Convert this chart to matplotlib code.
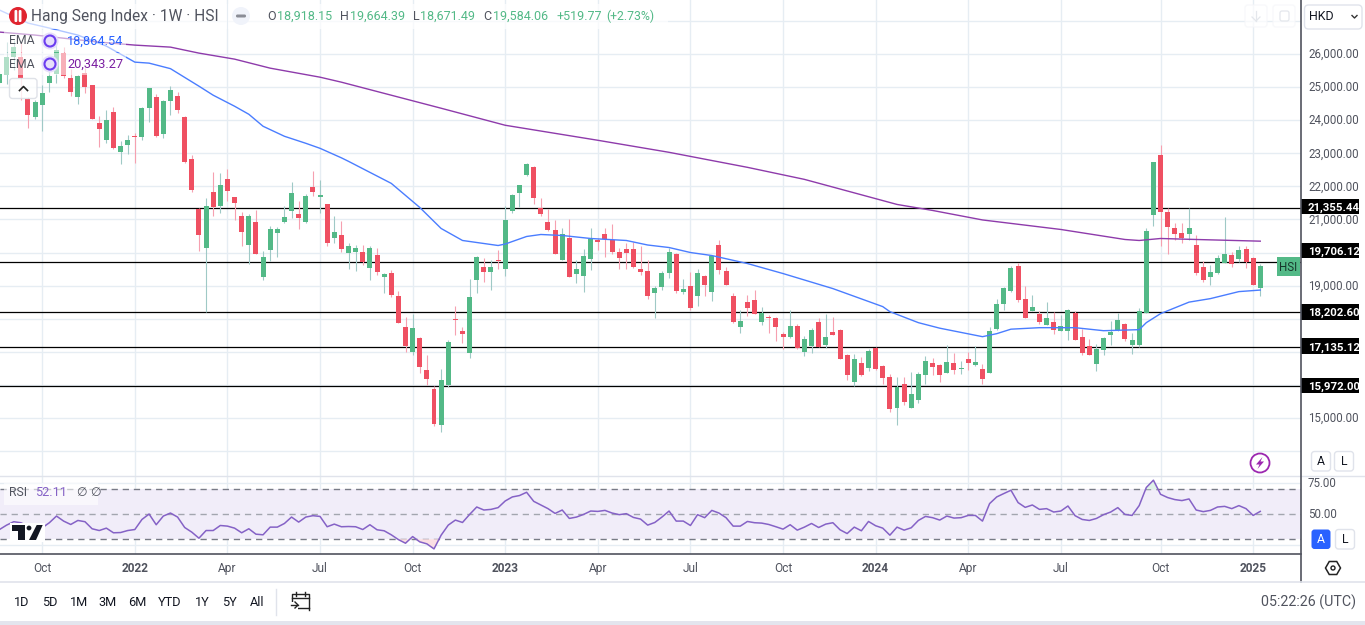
import matplotlib
matplotlib.use('Agg')
import matplotlib.pyplot as plt
from matplotlib.patches import Circle, FancyBboxPatch, Polygon, Rectangle, RegularPolygon
from matplotlib.ticker import FixedLocator, FuncFormatter
from matplotlib.transforms import ScaledTranslation

plt.rcParams['font.family'] = ['Roboto', 'DejaVu Sans']

# Weekly candles, one per week
opens = [25131,25363,25898,25919,24646,24090,24454,25121,25393,26040,
         25272,24696,25414,25060,23909,23394,24242,23030,23242,23515,
         23484,24363,24696,23575,24575,24727,24090,22818,21303,20151,
         21818,21394,22212,21666,21091,20242,20909,19273,20091,20576,
         20909,21242,21151,20909,21969,21666,21454,20454,20515,20000,
         20030,20030,19545,19939,19273,19394,18697,17758,17000,17424,
         16455,15879,14788,16000,18000,17636,16970,19182,19576,19424,
         19788,19515,21242,21788,22333,22575,21333,20909,20667,19788,
         20424,19364,19303,19818,20364,20545,20364,20030,20121,20121,
         19515,19455,18788,18970,19394,19970,18818,19000,18697,19303,
         18818,20242,19455,18697,17758,18515,18576,17909,18061,18030,
         17546,17455,17788,17000,17182,17909,17212,17606,17667,16909,
         16091,16667,16515,17121,16576,16242,15303,16030,15303,15546,
         16303,16667,16606,16364,16667,16485,16788,16606,16485,16364,
         17697,18455,18848,19606,18606,18242,18152,17818,17909,17636,
         17636,18182,17455,17182,16636,17061,17515,17667,17849,17212,
         17212,18182,21121,22939,21212,20727,20576,20545,20242,19576,
         19273,19394,19697,19939,19818,20121,19848,18918.15]
highs = [25500,26373,26424,26373,24707,24606,25060,25565,26323,26222,
         25535,25360,25565,25080,24121,24323,24404,23363,23565,23616,
         24404,24985,24787,24606,25030,24848,24121,22939,21333,21636,
         22424,22394,22515,21680,21212,21151,21272,20060,20788,20757,
         21394,22121,21545,21757,22454,22181,21470,21091,20939,20273,
         20242,20242,20182,20151,19394,19485,18848,18061,18152,17440,
         16909,15970,16485,17364,18394,17758,19212,19909,19848,19788,
         20091,21394,21757,22045,22697,22606,21636,21303,20970,20727,
         21000,19788,20121,20727,20424,20727,20848,20151,20273,20303,
         20182,19788,19000,19455,20151,20000,19212,19424,19515,19320,
         19939,20364,19576,18788,18273,18727,18879,18364,18121,18045,
         17606,18273,17849,17485,17727,18030,18152,18061,17680,16939,
         16939,16848,17091,17135,16590,16333,16242,16242,16394,16394,
         16879,16818,16636,17212,16970,16727,17000,17182,16636,17758,
         18606,18955,19606,19697,19000,18727,18242,18515,18212,18121,
         18303,18242,17697,17394,17242,17455,17939,18182,17865,17576,
         18333,20727,22745,23242,21333,20879,20879,21333,20515,19758,
         19636,19939,21060,20030,20182,20182,19865,19664.39]
lows = [25090,25090,25515,24606,23767,24030,23676,24858,25131,25292,
        24727,24494,24818,24030,23181,23313,23140,22666,22969,22697,
        23404,23939,23500,23454,24151,24212,22697,21818,20060,18212,
        21091,21182,21545,20970,20182,19667,19960,19182,19758,19879,
        20879,21030,20697,20900,21697,21182,20212,20273,20030,19515,
        19455,19636,19182,19333,18788,18667,17870,17000,16909,16364,
        16000,14758,14576,15940,17515,17273,16818,18788,19121,18879,
        19515,19303,21182,21363,22320,21454,21091,20650,19960,19775,
        19260,19091,18818,19485,20091,19879,19970,19515,19515,19545,
        19333,18606,18030,18879,19242,18788,18758,18273,18394,18697,
        18545,19364,19020,17879,17576,18091,18140,17818,17576,17333,
        17091,17424,17091,16879,16970,17140,17121,17500,16775,16152,
        15970,16273,16424,16455,16030,15182,14788,15394,15290,15455,
        16030,16303,16091,16350,16333,16333,16455,16576,16030,16350,
        17667,18273,18818,18515,18020,18230,17849,17805,17546,17625,
        17364,17350,16909,16895,16424,16909,17212,17636,17333,16939,
        17152,18170,20788,20182,19970,20364,20273,20364,19333,19121,
        19030,19364,19685,19576,19727,19545,19015,18671.49]
closes = [25393,25919,26222,25292,24151,24565,24818,25333,26121,25333,
          24848,25333,24999,24040,23727,24000,23151,23212,23394,23484,
          24363,24969,23515,24575,24908,24302,22727,21878,20515,21394,
          21363,22030,21848,21485,20606,21091,19970,19879,20697,20697,
          21060,21788,21030,21697,21818,21727,20273,20606,20121,20182,
          20151,19727,20151,19424,19364,18727,17879,17182,17727,16546,
          16182,14819,16152,17303,17970,17546,18667,19879,19424,19576,
          19758,20970,21727,22030,22666,21636,21151,20667,19970,20545,
          19273,19515,19909,20394,20303,20394,20030,19848,20000,19576,
          19424,18697,18939,19394,20030,18848,18909,18333,19394,19030,
          19909,19485,19030,17909,17939,18333,18152,18182,18030,17758,
          17455,17788,17121,17394,17667,17152,17455,17515,16788,16303,
          16788,16303,17030,16485,16212,15273,15940,15485,15728,16333,
          16727,16546,16303,16697,16455,16515,16667,16697,16182,17636,
          18455,18939,19545,18576,18030,18364,17909,18030,17667,17788,
          18273,17364,16970,16909,17091,17424,17606,17970,17394,17364,
          18242,20636,22727,21212,20757,20545,20454,20727,19394,19182,
          19424,19848,19970,19667,20091,19727,19030,19584.06]

# EMA lines, read at the weeks where the line bends
ema_fast_weeks = [0,4,7,11,15,19,21,24,28,30,33,35,37,40,43,45,48,49,52,55,58,59,62,65,67,70,71,74,76,79,
                  83,88,91,94,97,100,105,110,117,124,125,129,132,138,140,142,146,151,155,160,161,163,167,170,174,177]
ema_fast = [27332,26939,26787,26575,26242,25757,25727,25560,25030,24757,24424,24181,23818,23515,23303,23151,
            22863,22757,22424,22091,21545,21363,20727,20364,20303,20212,20257,20485,20545,20515,
            20424,20364,20227,20151,20000,19909,19667,19364,18909,18364,18212,17879,17712,17455,17546,17682,
            17727,17727,17636,17667,17879,18152,18500,18606,18818,18864.54]
ema_slow_weeks = [0,5,14,19,24,28,33,38,45,48,55,62,71,84,94,105,113,126,131,138,149,158,160,163,168,177]
ema_slow = [26666,26575,26363,26272,26211,26030,25848,25575,25302,25151,24757,24363,23848,23394,23030,22576,
            22212,21454,21272,20985,20697,20394,20364,20424,20394,20343.27]

rsi = [37.7,41.2,43.9,43.1,40.4,36.9,39.1,43.1,48.4,44.4,41.7,44.9,43.9,38.3,36.9,38.8,35.1,35.3,36.9,37.7,
       45.7,50.0,41.5,48.4,50.8,47.6,39.3,35.6,30.8,36.9,36.9,40.9,40.4,38.8,35.1,38.3,34.0,33.5,39.6,39.6,
       42.5,47.6,43.6,47.6,48.7,48.1,39.9,42.0,39.9,40.1,39.9,37.7,41.5,37.5,36.7,33.5,29.7,26.8,32.1,27.9,
       26.3,22.3,33.2,41.2,45.2,43.3,49.7,55.6,53.2,53.7,55.1,60.4,63.6,64.7,67.3,60.1,57.2,54.3,50.5,53.2,
       46.5,47.6,49.7,52.4,52.1,52.9,50.8,49.5,50.3,47.3,46.0,41.2,43.3,47.6,52.4,44.4,44.4,40.9,49.5,47.1,
       52.9,50.8,47.1,40.4,40.4,44.1,43.1,42.8,41.7,39.9,38.0,41.5,37.2,39.6,42.5,39.3,42.0,43.1,37.5,34.5,
       39.6,36.7,44.1,40.7,38.8,33.2,39.6,37.2,39.1,44.9,48.1,47.1,45.2,48.4,46.8,47.1,48.9,48.9,44.4,58.3,
       63.6,66.3,68.9,59.1,55.3,57.2,53.7,54.3,51.6,52.4,56.4,48.7,45.7,44.9,46.5,49.5,51.6,55.1,49.7,48.9,
       56.7,71.1,76.9,65.7,63.1,61.5,60.7,62.0,53.2,51.9,52.9,55.6,56.1,54.3,56.7,54.3,48.9,52.11]

levels = [21355.44, 19706.12, 18202.60, 17135.12, 15972.00]
# where each level's tag sits on the scale; the 19,706 one is pushed up clear of the HSI tag
tag_prices = [21390, 20060, 18202.60, 17165, 15972.00]
price_ticks = list(range(14000, 28000, 1000))
# the round prices the level tags cover are not labelled
label_ticks = [15000, 19000, 21000, 22000, 23000, 24000, 25000, 26000]
month_weeks = [6, 19, 32, 45, 58, 71, 84, 97, 110, 123, 136, 149, 163, 176]
month_labels = ['Oct', '2022', 'Apr', 'Jul', 'Oct', '2023', 'Apr', 'Jul', 'Oct', '2024', 'Apr', 'Jul', 'Oct', '2025']
range_labels = ['1D', '5D', '1M', '3M', '6M', 'YTD', '1Y', '5Y', 'All']
range_x = [22, 50, 79, 108, 137, 170, 202, 229, 257]

UP = '#53b987'
DOWN = '#ef5062'
UP_WICK = '#9fc9c6'
DOWN_WICK = '#f6a0b0'
GRID = '#e6edf3'
TEXT = '#50535e'

W, H = 1365, 625
fig = plt.figure(figsize=(W / 100, H / 100), dpi=100, facecolor='white')
one_px_up = ScaledTranslation(0, 1 / 100, fig.dpi_scale_trans)


def pane(top, bottom):
    return fig.add_axes([0, 1 - bottom / H, 1301 / W, (bottom - top) / H])


ax = pane(0, 476)
ax_rsi = pane(476.5, 554)
ui = fig.add_axes([0, 0, 1, 1], zorder=20)
ui.set_xlim(0, W)
ui.set_ylim(H, 0)
ui.axis('off')
ui.patch.set_alpha(0)

xlim = (0.5 / 7.123, 1301.5 / 7.123)

# candles
weeks = list(range(len(closes)))
colors = [UP if c >= o else DOWN for o, c in zip(opens, closes)]
wick_colors = [UP_WICK if c >= o else DOWN_WICK for o, c in zip(opens, closes)]
ax.set_xlim(*xlim)
ax.set_ylim(13242, 27636)
for lv in levels:
    ax.axhline(lv, color='black', lw=0.9, zorder=2)
ax.vlines(weeks, lows, highs, colors=wick_colors, lw=0.8, zorder=3)
ax.bar(weeks, [abs(c - o) for o, c in zip(opens, closes)], bottom=[min(o, c) for o, c in zip(opens, closes)],
       width=0.7, color=colors, linewidth=0, zorder=4)
ax.plot(ema_fast_weeks, ema_fast, color='#4a7dff', lw=1.0, zorder=5)
ax.plot(ema_slow_weeks, ema_slow, color='#8e3bab', lw=1.0, zorder=5)

ax.yaxis.tick_right()
ax.yaxis.set_major_locator(FixedLocator(price_ticks))
ax.yaxis.set_major_formatter(FuncFormatter(lambda v, p: f'{v:,.2f}' if v in label_ticks else ''))
ax.xaxis.set_major_locator(FixedLocator(month_weeks))
ax.tick_params(axis='x', length=0, labelbottom=False)
ax.tick_params(axis='y', length=0, pad=5, labelsize=8.3, labelcolor=TEXT)
for lab in ax.get_yticklabels():
    lab.set_verticalalignment('center_baseline')
    lab.set_transform(lab.get_transform() + one_px_up)
ax.grid(True, color=GRID, lw=1, zorder=0)
ax.set_axisbelow(True)
for s in ax.spines.values():
    s.set_visible(False)

# price tags on the scale
scale = ax.get_yaxis_transform()
for lv, tag in zip(levels, tag_prices):
    ax.add_patch(Rectangle((1, tag - 235), 58 / 1301, 470, transform=scale, fc='black', ec='none', clip_on=False, zorder=10))
    ax.text(1 + 7 / 1301, tag, f'{lv:,.2f}', transform=scale, color='white', fontsize=8.2, fontweight='bold',
            va='center_baseline', ha='left', zorder=11)
ax.add_patch(Rectangle((1 - 24 / 1301, closes[-1] - 290), 23 / 1301, 580, transform=scale, fc=UP, ec='none', clip_on=False, zorder=10))
ax.text(1 - 12.5 / 1301, closes[-1], 'HSI', transform=scale, color='#17362b', fontsize=8.4,
        va='center_baseline', ha='center', zorder=11)

# RSI pane
ax_rsi.set_xlim(*xlim)
ax_rsi.set_ylim(18.24, 79.84)
ax_rsi.axhspan(30, 70, color='#f1edf9', lw=0, zorder=1)
for v, c in [(70, '#787b86'), (50, '#a3a6af'), (30, '#787b86')]:
    ax_rsi.axhline(v, color=c, lw=1, dashes=(4.5, 3.5), zorder=2)
ax_rsi.fill_between(weeks, rsi, 30, where=[r < 30 for r in rsi], interpolate=True, color='#fbdfe3', lw=0, zorder=2)
ax_rsi.fill_between(weeks, rsi, 70, where=[r > 70 for r in rsi], interpolate=True, color='#dff3e8', lw=0, zorder=2)
ax_rsi.plot(weeks, rsi, color='#8562c6', lw=1.1, zorder=3)
ax_rsi.yaxis.tick_right()
ax_rsi.yaxis.set_major_locator(FixedLocator([25, 50, 75]))
ax_rsi.yaxis.set_major_formatter(FuncFormatter(lambda v, p: f'{v:.2f}' if v > 25 else ''))
ax_rsi.xaxis.set_major_locator(FixedLocator(month_weeks))
ax_rsi.set_xticklabels(month_labels)
ax_rsi.tick_params(axis='x', length=0, pad=6, labelsize=8.6, labelcolor=TEXT)
ax_rsi.tick_params(axis='y', length=0, pad=5, labelsize=8.3, labelcolor=TEXT)
for lab in ax_rsi.get_yticklabels():
    lab.set_verticalalignment('center_baseline')
    lab.set_transform(lab.get_transform() + one_px_up)
for lab in ax_rsi.get_xticklabels():
    if lab.get_text().startswith('20'):
        lab.set_fontweight('bold')
ax_rsi.grid(True, color=GRID, lw=1, zorder=0)
ax_rsi.set_axisbelow(True)
for s in ['top', 'left', 'right']:
    ax_rsi.spines[s].set_visible(False)
ax_rsi.spines['bottom'].set_color(TEXT)
ax_rsi.spines['bottom'].set_linewidth(1.2)


def box(x0, y0, x1, y1, fc='white', ec='none', lw=1, r=3, alpha=1, z=21):
    ui.add_patch(FancyBboxPatch((x0, y0), x1 - x0, y1 - y0, boxstyle=f'round,pad=0,rounding_size={r}',
                                fc=fc, ec=ec, lw=lw, alpha=alpha, zorder=z))


# frame lines
ui.plot([1301, 1301], [0, 582], color=TEXT, lw=1.2, zorder=22)
ui.plot([0, W], [476, 476], color='#e0e3eb', lw=1, zorder=2)
ui.plot([0, W], [582, 582], color='#e0e3eb', lw=1.2, zorder=22)
ui.add_patch(Rectangle((0, 620.5), W, 5, fc='#e3e5ee', ec='none', zorder=22))

# header
ui.add_patch(Rectangle((0, 4), 227, 25, fc='white', ec='none', alpha=0.7, zorder=21))
ui.add_patch(Rectangle((228, 4), 440, 25, fc='white', ec='none', alpha=0.7, zorder=21))
ui.add_patch(Circle((18, 16), 9, fc='#e0242f', ec='none', zorder=22))
box(14.5, 10, 17.3, 22, fc='white', r=1.2, z=23)
box(18.7, 10, 21.5, 22, fc='white', r=1.2, z=23)
ui.text(31, 16, 'Hang Seng Index · 1W · HSI', fontsize=11.2, color=TEXT, va='center', ha='left', zorder=23)
ui.add_patch(Circle((241, 16), 9, fc='#f0f3fa', ec='none', zorder=22))
box(236, 14.5, 246, 17.5, fc='#8a8d96', r=1.4, z=23)
ohlc = [(267, 277, 'O', '18,918.15'), (340, 350, 'H', '19,664.39'), (413, 420, 'L', '18,671.49'), (483, 493, 'C', '19,584.06')]
for x, x_val, key, val in ohlc:
    ui.text(x, 16, key, fontsize=9, color=TEXT, va='center', ha='left', zorder=23)
    ui.text(x_val, 16, val, fontsize=9, color=UP, va='center', ha='left', zorder=23)
ui.text(556, 16, '+519.77', fontsize=9, color=UP, va='center', ha='left', zorder=23)
ui.text(606, 16, '(+2.73%)', fontsize=8.8, color=UP, va='center', ha='left', zorder=23)

# indicator legends
for y, val, col in [(41, '18,864.54', '#2962ff'), (64, '20,343.27', '#7b1fa2')]:
    ui.add_patch(Rectangle((4, y - 11), 122, 22, fc='white', ec='none', alpha=0.55, zorder=21))
    ui.text(9, y, 'EMA', fontsize=8.8, color=TEXT, va='center', ha='left', zorder=23)
    ui.add_patch(Circle((50, y), 8.5, fc='#e6dffa', ec='none', zorder=22))
    ui.add_patch(Circle((50, y), 5.5, fc='none', ec='#6b3df0', lw=1.5, zorder=23))
    ui.text(67, y, val, fontsize=9.2, color=col, va='center', ha='left', zorder=23)
box(9.5, 78.5, 37, 98.5, fc='white', ec='#d8dbe3', alpha=0.8, r=3)
ui.plot([19.5, 23.5, 27.5], [90.5, 86.5, 90.5], color='#222', lw=1.2, zorder=23)

# RSI legend and logo
ui.add_patch(Rectangle((4, 483), 94, 22, fc='white', ec='none', alpha=0.6, zorder=21))
ui.text(9, 493, 'RSI', fontsize=8.8, color=TEXT, va='center', ha='left', zorder=23)
ui.text(35, 493, '52.11', fontsize=9.2, color='#8562c6', va='center', ha='left', zorder=23)
ui.text(76, 493, '∅', fontsize=8.8, color=TEXT, va='center', ha='left', zorder=23)
ui.text(90, 493, '∅', fontsize=8.8, color=TEXT, va='center', ha='left', zorder=23)
ui.add_patch(Rectangle((10, 523), 35, 19, fc='white', ec='none', zorder=21))
ui.add_patch(Polygon([(12, 525), (25, 525), (25, 540), (18.3, 540), (18.3, 530.5), (12, 530.5)], fc='#131722', ec='none', zorder=22))
ui.add_patch(Circle((29, 528), 2.4, fc='#131722', ec='none', zorder=22))
ui.add_patch(Polygon([(29, 540), (36.7, 525), (42.7, 525), (36, 540)], fc='#131722', ec='none', zorder=22))

# currency box and faint top buttons
box(1304.5, 5, 1362, 29, ec='#e0e3eb', r=4)
ui.text(1309, 17, 'HKD', fontsize=9, color='#131722', va='center', ha='left', zorder=23)
ui.plot([1352, 1354.5, 1357], [15.5, 18, 15.5], color='#333', lw=1, zorder=23)
box(1245, 5, 1267, 27, fc='white', ec='#f5f6f9', alpha=0.7, r=3)
box(1273, 5, 1295, 27, fc='white', ec='#f5f6f9', alpha=0.7, r=3)
ui.plot([1256, 1256], [11, 21], color='#e4e7ec', lw=0.9, zorder=23)
ui.plot([1252, 1256, 1260], [17, 21, 17], color='#e4e7ec', lw=0.9, zorder=23)
box(1280, 11, 1289, 21, fc='none', ec='#e4e7ec', lw=0.9, r=2, z=23)

# lightning button, auto and log toggles
ui.add_patch(Circle((1260, 463), 9.5, fc='white', ec='#9c27b0', lw=1.3, zorder=22))
ui.add_patch(Polygon([(1262.5, 457), (1256, 464.5), (1259.5, 464.5), (1257.5, 469), (1264, 461.5), (1260.5, 461.5)],
                     fc='#9c27b0', ec='none', zorder=23))
for x, lab in [(1321, 'A'), (1344, 'L')]:
    box(x - 9.5, 451.5, x + 9.5, 471, ec='#e0e3eb', r=3)
    ui.text(x, 461.5, lab, fontsize=8.8, color='#131722', va='center', ha='center', zorder=23)
box(1311.5, 529.5, 1330.5, 549, fc='#2962ff', r=3)
ui.text(1321, 539.5, 'A', fontsize=8.8, color='white', va='center', ha='center', zorder=23)
box(1335.5, 529.5, 1354.5, 549, ec='#e0e3eb', r=3)
ui.text(1345, 539.5, 'L', fontsize=8.8, color='#131722', va='center', ha='center', zorder=23)
ui.add_patch(RegularPolygon((1333, 568), 6, radius=7.5, orientation=0.5236, fc='white', ec='#222', lw=1.1, zorder=22))
ui.add_patch(Circle((1333, 568), 2, fc='white', ec='#222', lw=1, zorder=23))

# bottom bar
for x, lab in zip(range_x, range_labels):
    ui.text(x, 602, lab, fontsize=9.2, color='#131722', va='center', ha='center', zorder=23)
ui.plot([276, 276], [589, 615], color='#e0e3eb', lw=1, zorder=22)
ui.plot([309, 292, 292, 309, 309], [608, 608, 594, 594, 610], color='#222', lw=1, zorder=23)
ui.plot([292, 309], [598, 598], color='#222', lw=1, zorder=23)
ui.plot([296, 296], [591.5, 596], color='#222', lw=1, zorder=23)
ui.plot([305, 305], [591.5, 596], color='#222', lw=1, zorder=23)
ui.add_patch(Rectangle((289, 602), 9, 9, fc='white', ec='none', zorder=23))
ui.plot([291, 298], [605, 605], color='#222', lw=1, zorder=24)
ui.plot([295, 298, 295], [602, 605, 608], color='#222', lw=1, zorder=24)
ui.text(1356, 602, '05:22:26 (UTC)', fontsize=10.3, color=TEXT, va='center', ha='right', zorder=23)

fig.savefig('out.png', dpi=100, facecolor='white')
